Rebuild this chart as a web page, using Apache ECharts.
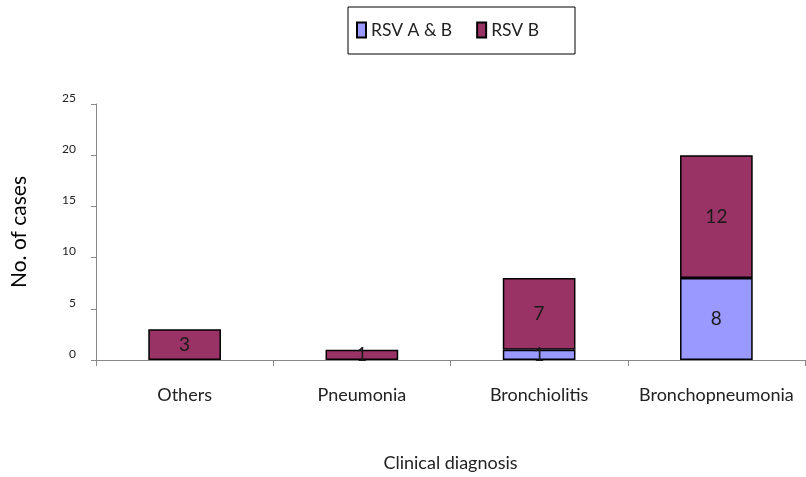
<!DOCTYPE html>
<html>
<head>
<meta charset="utf-8">
<script src="https://cdn.jsdelivr.net/npm/echarts@6/dist/echarts.min.js"></script>
<style>
html,body{margin:0;padding:0;background:#fff;}
#chart{width:806px;height:477px;}
</style>
</head>
<body>
<div id="chart"></div>
<script>
var categories = ['Others', 'Pneumonia', 'Bronchiolitis', 'Bronchopneumonia'];
var rsvAB = [0, 0, 1, 8];   // RSV A & B
var rsvB = [3, 1, 7, 12];   // RSV B
var yTicks = [0, 5, 10, 15, 20, 25];

var FONT = 'Lato';

// 0 = no bar drawn
function toSeries(arr) {
	return arr.map(function (v) { return v === 0 ? '-' : v; });
}

var chart = echarts.init(document.getElementById('chart'));

var barLabel = {
	show: true, position: 'inside', overflow: 'none',
	fontFamily: FONT, fontSize: 19, color: '#1a1a1a'
};

var option = {
	backgroundColor: '#fff',
	animation: false,
	textStyle: { fontFamily: FONT },
	legend: {
		top: 7,
		left: 348,
		padding: [14, 36, 15, 8],
		itemGap: 24,
		itemWidth: 9,
		itemHeight: 15,
		icon: 'rect',
		borderColor: '#000',
		borderWidth: 1,
		textStyle: { fontFamily: FONT, fontSize: 17.5, color: '#222' },
		data: ['RSV A & B', 'RSV B']
	},
	grid: { left: 96, right: 1, top: 104, bottom: 117 },
	xAxis: {
		type: 'category',
		data: categories,
		name: 'Clinical diagnosis',
		nameLocation: 'middle',
		nameGap: 94,
		nameTextStyle: { fontFamily: FONT, fontSize: 18, color: '#222' },
		axisLine: { lineStyle: { color: '#888', width: 1 } },
		axisTick: { show: true, length: 6, lineStyle: { color: '#888' } },
		axisLabel: { interval: 0, fontFamily: FONT, fontSize: 18, color: '#222', margin: 26 }
	},
	yAxis: {
		type: 'value',
		min: yTicks[0],
		max: yTicks[yTicks.length - 1],
		interval: 5,
		name: 'No. of cases',
		nameLocation: 'middle',
		nameGap: 66,
		nameTextStyle: { fontFamily: FONT, fontSize: 21, color: '#000' },
		axisLine: { show: true, lineStyle: { color: '#888', width: 1 } },
		axisTick: { show: true, length: 5, lineStyle: { color: '#888' } },
		splitLine: { show: false },
		axisLabel: {
			fontFamily: FONT, fontSize: 12, color: '#222', margin: 20,
			verticalAlign: 'bottom', padding: [0, 0, 0, 0]
		}
	},
	series: [
		{
			name: 'RSV A & B',
			type: 'bar',
			stack: 'total',
			barWidth: '41%',
			z: 3,
			data: toSeries(rsvAB),
			itemStyle: { color: '#9999FF', borderColor: '#000', borderWidth: 1.5 },
			label: barLabel
		},
		{
			name: 'RSV B',
			type: 'bar',
			stack: 'total',
			barWidth: '41%',
			z: 2,
			data: toSeries(rsvB),
			itemStyle: { color: '#993366', borderColor: '#000', borderWidth: 1.5 },
			label: barLabel
		}
	]
};

chart.setOption(option);
</script>
</body>
</html>
